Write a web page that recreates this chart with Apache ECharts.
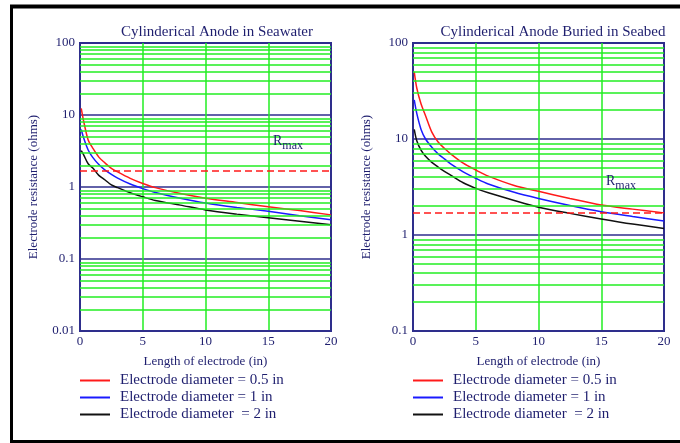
<!DOCTYPE html>
<html>
<head>
<meta charset="utf-8">
<script src="https://cdn.jsdelivr.net/npm/echarts@6/dist/echarts.min.js"></script>
<style>
  html, body { margin: 0; padding: 0; background: #fff; }
  #chart { width: 680px; height: 443px; }
</style>
</head>
<body>
<div id="chart"></div>
<script>
// electrode length (in)
const lengths = [0.1, 0.3, 0.65, 1, 1.5, 2, 2.5, 3, 4, 5, 6, 8, 10, 12.5, 15, 17.5, 20];

// seawater, resistance (ohms)
const seaHalf = [12.4, 8.1, 4.5, 3.5, 2.6, 2.15, 1.82, 1.62, 1.32, 1.12, 0.98, 0.81, 0.70, 0.61, 0.53, 0.47, 0.41];
const seaOne = [6.3, 4.75, 3.27, 2.6, 2.05, 1.72, 1.5, 1.33, 1.1, 0.95, 0.84, 0.70, 0.60, 0.52, 0.46, 0.40, 0.35];
const seaTwo = [3.2, 2.78, 2.1, 1.85, 1.45, 1.25, 1.07, 0.98, 0.83, 0.73, 0.65, 0.56, 0.48, 0.42, 0.375, 0.335, 0.30];

// buried in seabed, resistance (ohms)
const bedHalf = [50, 34, 23, 17.5, 11.8, 9.3, 8.0, 7.0, 5.6, 4.75, 4.1, 3.3, 2.85, 2.4, 2.05, 1.86, 1.70];
const bedOne = [25.5, 18.5, 12.5, 10.0, 8.2, 7.0, 6.2, 5.5, 4.55, 3.9, 3.4, 2.8, 2.4, 2.03, 1.75, 1.56, 1.40];
const bedTwo = [12.6, 9.6, 7.6, 6.6, 5.7, 5.1, 4.6, 4.2, 3.5, 3.06, 2.75, 2.3, 1.95, 1.68, 1.47, 1.3, 1.17];

const rMax = 1.7;
const names = ['Electrode diameter = 0.5 in', 'Electrode diameter = 1 in', 'Electrode diameter  = 2 in'];
const colors = ['#ff1a1a', '#1a1aff', '#111111'];
const xTicks = [0, 5, 10, 15, 20];
const minorSteps = [2, 3, 4, 5, 6, 7, 8, 9];

const navy = '#2e2e8c';
const green = '#22ee22';
const textNavy = '#1e1e6e';
const font = 'Liberation Serif';

function minorLines(lo, hi) {
  const out = [];
  for (let d = lo; d < hi; d *= 10) {
    minorSteps.forEach(s => out.push({yAxis: +(s * d).toPrecision(3)}));
  }
  return out;
}

function pairs(ys) {
  return lengths.map((x, i) => [x, ys[i]]);
}

function curve(idx, gi, ys, withRmax) {
  const s = {
    name: names[idx],
    type: 'line',
    xAxisIndex: gi,
    yAxisIndex: gi,
    data: pairs(ys),
    smooth: 0.3,
    showSymbol: false,
    symbol: 'none',
    color: colors[idx],
    lineStyle: {color: colors[idx], width: 1.5},
    z: 4
  };
  if (withRmax) {
    s.markLine = {
      silent: true,
      symbol: 'none',
      label: {show: false},
      lineStyle: {color: '#ff1a1a', type: [7, 4], width: 1.5},
      data: [{yAxis: rMax}]
    };
  }
  return s;
}

function gridSeries(gi, lo, hi) {
  return {
    type: 'line',
    xAxisIndex: gi,
    yAxisIndex: gi,
    data: [],
    z: 2,
    markLine: {
      silent: true,
      symbol: 'none',
      label: {show: false},
      lineStyle: {color: green, type: 'solid', width: 1.5},
      data: minorLines(lo, hi)
    }
  };
}

function xAxis(gi) {
  return {
    gridIndex: gi,
    type: 'value',
    min: 0,
    max: 20,
    interval: 5,
    name: 'Length of electrode (in)',
    nameLocation: 'middle',
    nameGap: 24,
    nameTextStyle: {color: textNavy, fontFamily: font, fontSize: 13},
    axisLine: {show: true, lineStyle: {color: navy, width: 2}},
    axisTick: {show: false},
    axisLabel: {color: textNavy, fontFamily: font, fontSize: 13, margin: 4,
      formatter: v => xTicks.indexOf(v) >= 0 ? String(v) : ''},
    splitLine: {show: true, showMinLine: false, showMaxLine: false,
      lineStyle: {color: green, width: 1.5}}
  };
}

function yAxis(gi, lo, hi) {
  return {
    gridIndex: gi,
    type: 'log',
    logBase: 10,
    min: lo,
    max: hi,
    name: 'Electrode resistance (ohms)',
    nameLocation: 'middle',
    nameGap: 40,
    nameTextStyle: {color: textNavy, fontFamily: font, fontSize: 13},
    axisLine: {show: true, lineStyle: {color: navy, width: 2}},
    axisTick: {show: false},
    axisLabel: {color: textNavy, fontFamily: font, fontSize: 13, margin: 5},
    splitLine: {show: true, lineStyle: {color: navy, width: 1.5}}
  };
}

function legend(left) {
  return {
    data: names, orient: 'vertical', left: left, top: 373, padding: 0,
    itemWidth: 30, itemHeight: 2, itemGap: 2, icon: 'rect', selectedMode: false,
    textStyle: {color: textNavy, fontFamily: font, fontSize: 15, lineHeight: 15, padding: [0, 0, 0, 5]}
  };
}

const rmaxText = {
  text: '{a|R}{b|max}',
  rich: {
    a: {fontFamily: font, fontSize: 14, fill: textNavy, lineHeight: 18, verticalAlign: 'top'},
    b: {fontFamily: font, fontSize: 12, fill: textNavy, lineHeight: 18, verticalAlign: 'bottom'}
  }
};

const chart = echarts.init(document.getElementById('chart'));
chart.setOption({
  backgroundColor: '#fff',
  animation: false,
  title: [
    {text: 'Cylinderical Anode in Seawater', left: 212, top: 20, textAlign: 'center',
      textStyle: {color: textNavy, fontFamily: font, fontSize: 15, fontWeight: 'normal'}},
    {text: 'Cylinderical Anode Buried in Seabed', left: 548, top: 20, textAlign: 'center',
      textStyle: {color: textNavy, fontFamily: font, fontSize: 15, fontWeight: 'normal'}}
  ],
  legend: [legend(80), legend(413)],
  grid: [
    {left: 80, top: 43, width: 251, height: 288, show: true, borderColor: navy, borderWidth: 2, backgroundColor: '#fff'},
    {left: 413, top: 43, width: 251, height: 288, show: true, borderColor: navy, borderWidth: 2, backgroundColor: '#fff'}
  ],
  xAxis: [xAxis(0), xAxis(1)],
  yAxis: [yAxis(0, 0.01, 100), yAxis(1, 0.1, 100)],
  series: [
    gridSeries(0, 0.01, 100),
    gridSeries(1, 0.1, 100),
    curve(0, 0, seaHalf, true),
    curve(1, 0, seaOne, false),
    curve(2, 0, seaTwo, false),
    curve(0, 1, bedHalf, true),
    curve(1, 1, bedOne, false),
    curve(2, 1, bedTwo, false)
  ],
  graphic: [
    // outer frame
    {type: 'line', shape: {x1: 10, y1: 6.5, x2: 680, y2: 6.5}, style: {stroke: '#000', lineWidth: 4}, silent: true},
    {type: 'line', shape: {x1: 11.5, y1: 5, x2: 11.5, y2: 443}, style: {stroke: '#000', lineWidth: 3}, silent: true},
    {type: 'line', shape: {x1: 10, y1: 441.5, x2: 680, y2: 441.5}, style: {stroke: '#000', lineWidth: 3}, silent: true},
    // R_max annotations
    {type: 'text', left: 273, top: 134, z: 10, silent: true, style: rmaxText},
    {type: 'text', left: 606, top: 174, z: 10, silent: true, style: rmaxText}
  ]
});
</script>
</body>
</html>
